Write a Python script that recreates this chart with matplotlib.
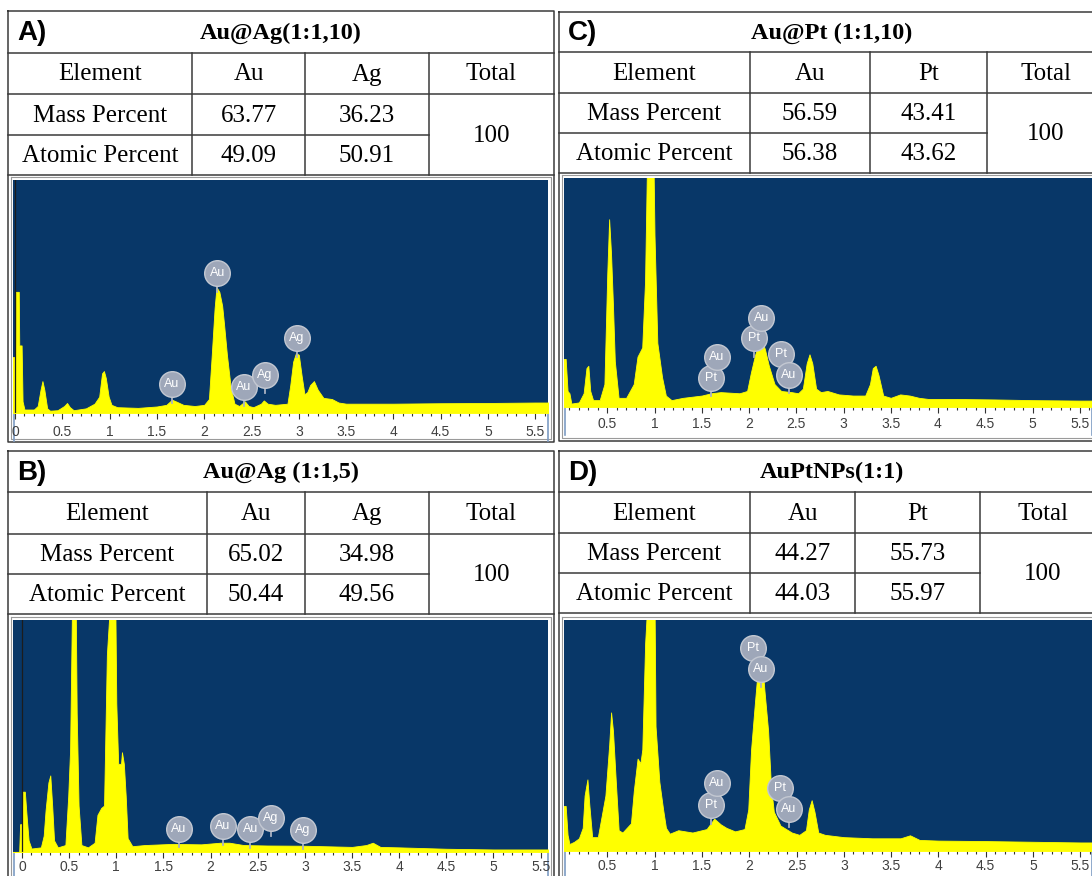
import matplotlib
matplotlib.use("Agg")
import matplotlib.pyplot as plt
from matplotlib.ticker import MultipleLocator

W, H = 1092, 876

# ---- table data ----
titles = {"A": "Au@Ag(1:1,10)", "B": "Au@Ag (1:1,5)", "C": "Au@Pt (1:1,10)", "D": "AuPtNPs(1:1)"}
headers = {"A": ["Element", "Au", "Ag", "Total"], "B": ["Element", "Au", "Ag", "Total"],
           "C": ["Element", "Au", "Pt", "Total"], "D": ["Element", "Au", "Pt", "Total"]}
mass = {"A": ["63.77", "36.23"], "B": ["65.02", "34.98"], "C": ["56.59", "43.41"], "D": ["44.27", "55.73"]}
atomic = {"A": ["49.09", "50.91"], "B": ["50.44", "49.56"], "C": ["56.38", "43.62"], "D": ["44.03", "55.97"]}
total = "100"

# ---- spectra (energy keV, height as fraction of plot) ----
A_e = [-0.03, 0.005, 0.01, 0.04, 0.045, 0.07, 0.08, 0.10, 0.2, 0.24, 0.27, 0.29, 0.31, 0.34, 0.37, 0.45,
       0.52, 0.55, 0.58, 0.62, 0.75, 0.84, 0.89, 0.92, 0.94, 0.96, 0.99, 1.02, 1.08, 1.3, 1.5, 1.6, 1.66,
       1.7, 1.78, 1.9, 2.0, 2.05, 2.08, 2.11, 2.13, 2.16, 2.19, 2.21, 2.24, 2.28, 2.32, 2.37, 2.43, 2.47,
       2.52, 2.6, 2.63, 2.67, 2.75, 2.88, 2.91, 2.94, 2.97, 3.0, 3.03, 3.06, 3.09, 3.12, 3.16, 3.2, 3.26,
       3.35, 3.42, 3.5, 4.0, 4.5, 5.0, 5.5, 5.7]
A_h = [0.24, 0.24, 0.52, 0.52, 0.29, 0.29, 0.05, 0.015, 0.015, 0.03, 0.10, 0.137, 0.10, 0.02, 0.01, 0.012,
       0.03, 0.043, 0.025, 0.012, 0.02, 0.04, 0.07, 0.17, 0.18, 0.15, 0.07, 0.035, 0.025, 0.022, 0.028,
       0.035, 0.057, 0.05, 0.035, 0.03, 0.035, 0.06, 0.25, 0.45, 0.54, 0.52, 0.46, 0.38, 0.25, 0.11, 0.04,
       0.03, 0.05, 0.03, 0.025, 0.04, 0.054, 0.04, 0.035, 0.04, 0.12, 0.22, 0.257, 0.25, 0.16, 0.08, 0.09,
       0.12, 0.137, 0.10, 0.065, 0.06, 0.045, 0.04, 0.04, 0.042, 0.043, 0.045, 0.045]

C_e = [0.03, 0.06, 0.08, 0.1, 0.12, 0.2, 0.25, 0.28, 0.3, 0.32, 0.35, 0.42, 0.47, 0.5, 0.52, 0.54, 0.56,
       0.58, 0.62, 0.7, 0.78, 0.82, 0.87, 0.9, 0.92, 0.99, 1.0, 1.03, 1.08, 1.12, 1.18, 1.3, 1.5, 1.6, 1.7,
       1.9, 1.98, 2.02, 2.06, 2.1, 2.13, 2.17, 2.21, 2.27, 2.34, 2.45, 2.52, 2.57, 2.61, 2.64, 2.67, 2.71,
       2.76, 2.83, 2.95, 3.1, 3.23, 3.28, 3.31, 3.34, 3.37, 3.42, 3.5, 3.6, 3.7, 3.8, 3.9, 4.2, 4.6, 5.0,
       5.5, 5.7]
C_h = [0.21, 0.21, 0.07, 0.06, 0.015, 0.02, 0.06, 0.17, 0.18, 0.07, 0.03, 0.03, 0.10, 0.58, 0.82, 0.67,
       0.45, 0.2, 0.04, 0.04, 0.1, 0.22, 0.26, 0.55, 1.05, 1.05, 0.75, 0.28, 0.13, 0.05, 0.03, 0.04, 0.05,
       0.06, 0.065, 0.06, 0.07, 0.15, 0.22, 0.28, 0.30, 0.25, 0.18, 0.1, 0.07, 0.065, 0.06, 0.08, 0.19,
       0.23, 0.19, 0.08, 0.065, 0.07, 0.055, 0.05, 0.05, 0.1, 0.17, 0.18, 0.14, 0.05, 0.04, 0.055, 0.05,
       0.04, 0.035, 0.035, 0.033, 0.03, 0.028, 0.028]

B_e = [-0.1, -0.03, -0.02, 0.0, 0.01, 0.03, 0.05, 0.07, 0.1, 0.2, 0.23, 0.25, 0.28, 0.3, 0.32, 0.34, 0.38,
       0.46, 0.49, 0.51, 0.53, 0.57, 0.58, 0.6, 0.63, 0.7, 0.77, 0.8, 0.84, 0.87, 0.9, 0.93, 0.99, 1.0,
       1.02, 1.05, 1.06, 1.08, 1.1, 1.12, 1.17, 1.3, 1.6, 1.9, 2.1, 2.2, 2.35, 2.6, 3.0, 3.5, 3.65, 3.72,
       3.8, 4.0, 4.5, 5.0, 5.6]
B_h = [0.0, 0.0, 0.12, 0.12, 0.26, 0.26, 0.15, 0.05, 0.015, 0.02, 0.07, 0.18, 0.3, 0.33, 0.2, 0.05, 0.02,
       0.03, 0.24, 0.44, 1.05, 1.05, 0.6, 0.2, 0.03, 0.02, 0.04, 0.16, 0.19, 0.2, 0.85, 1.05, 1.05, 0.64,
       0.38, 0.38, 0.43, 0.38, 0.24, 0.06, 0.025, 0.03, 0.035, 0.033, 0.04, 0.04, 0.03, 0.028, 0.027, 0.022,
       0.03, 0.04, 0.022, 0.02, 0.014, 0.011, 0.011]

D_e = [0.03, 0.06, 0.08, 0.1, 0.15, 0.2, 0.24, 0.26, 0.29, 0.31, 0.34, 0.4, 0.48, 0.52, 0.54, 0.56, 0.59,
       0.62, 0.66, 0.75, 0.78, 0.82, 0.85, 0.87, 0.9, 0.92, 1.0, 1.01, 1.05, 1.09, 1.12, 1.16, 1.25, 1.4,
       1.55, 1.63, 1.7, 1.76, 1.85, 1.95, 1.99, 2.02, 2.06, 2.1, 2.13, 2.16, 2.2, 2.23, 2.26, 2.33, 2.45,
       2.53, 2.6, 2.63, 2.66, 2.69, 2.73, 2.8, 3.0, 3.3, 3.6, 3.7, 3.8, 4.0, 4.5, 5.0, 5.5, 5.7]
D_h = [0.195, 0.195, 0.07, 0.03, 0.04, 0.055, 0.1, 0.24, 0.31, 0.2, 0.06, 0.06, 0.24, 0.46, 0.6, 0.52, 0.3,
       0.09, 0.08, 0.12, 0.26, 0.4, 0.38, 0.44, 0.9, 1.05, 1.05, 0.54, 0.3, 0.18, 0.1, 0.075, 0.09, 0.08,
       0.095, 0.14, 0.115, 0.1, 0.085, 0.095, 0.18, 0.44, 0.64, 0.83, 0.85, 0.7, 0.52, 0.28, 0.17, 0.11,
       0.08, 0.07, 0.09, 0.18, 0.22, 0.17, 0.08, 0.07, 0.06, 0.055, 0.055, 0.068, 0.048, 0.045, 0.043,
       0.04, 0.037, 0.037]

# peak markers: (label, energy, balloon height)
A_marks = [("Au", 1.66, 0.125), ("Au", 2.14, 0.60), ("Au", 2.42, 0.11), ("Ag", 2.64, 0.165), ("Ag", 2.98, 0.32)]
B_marks = [("Au", 1.66, 0.10), ("Au", 2.13, 0.112), ("Au", 2.42, 0.097), ("Ag", 2.64, 0.148), ("Ag", 2.98, 0.095)]
C_marks = [("Pt", 1.60, 0.128), ("Au", 1.66, 0.22), ("Pt", 2.05, 0.30), ("Au", 2.13, 0.39),
           ("Pt", 2.34, 0.23), ("Au", 2.42, 0.14)]
D_marks = [("Pt", 1.60, 0.198), ("Au", 1.66, 0.295), ("Pt", 2.04, 0.88), ("Au", 2.12, 0.79),
           ("Pt", 2.33, 0.274), ("Au", 2.42, 0.183)]

spectra = {"A": (A_e, A_h, A_marks), "B": (B_e, B_h, B_marks), "C": (C_e, C_h, C_marks), "D": (D_e, D_h, D_marks)}

# ---- layout in pixels ----
layout = {
    "A": dict(x0=8, x1=554, cols=[192, 305, 429], rows=[11, 53, 94, 135, 175],
              sp=(13, 180, 548, 413), bottom=442, zero=15, ppk=94.6, zline=True, pad=4),
    "B": dict(x0=8, x1=554, cols=[207, 305, 429], rows=[451, 492, 534, 574, 614],
              sp=(13, 620, 548, 852), bottom=890, zero=22, ppk=94.3, zline=True, pad=1.5),
    "C": dict(x0=559, x1=1105, cols=[750, 870, 987], rows=[12, 52, 93, 133, 173],
              sp=(564, 178, 1092, 407), bottom=441, zero=560, ppk=94.5, zline=False, pad=3),
    "D": dict(x0=559, x1=1105, cols=[750, 855, 980], rows=[451, 492, 533, 573, 613],
              sp=(564, 620, 1092, 851), bottom=890, zero=560, ppk=94.6, zline=False, pad=1.5),
}

BLUE = "#083768"
YEL = "#ffff00"
LINE = "#3a3a3a"
serif = "Liberation Serif"
sans = "Liberation Sans"
FS = 18

fig = plt.figure(figsize=(W / 100, H / 100), dpi=100)
bg = fig.add_axes([0, 0, 1, 1])
bg.set_xlim(0, W)
bg.set_ylim(H, 0)
bg.axis("off")


def frac(x0, y0, x1, y1):
    return [x0 / W, 1 - y1 / H, (x1 - x0) / W, (y1 - y0) / H]


for key, L in layout.items():
    x0, x1, rows, cols = L["x0"], L["x1"], L["rows"], L["cols"]
    lw = 1.1
    # outer box
    bg.plot([x0, x1, x1, x0, x0], [rows[0], rows[0], L["bottom"], L["bottom"], rows[0]], color=LINE, lw=lw)
    # horizontal table lines
    for i, y in enumerate(rows[1:]):
        xe = cols[2] if i == 2 else x1
        bg.plot([x0, xe], [y, y], color=LINE, lw=lw)
    for c in cols:
        bg.plot([c, c], [rows[1], rows[4]], color=LINE, lw=lw)
    # texts
    yc_title = (rows[0] + rows[1]) / 2 + 1
    bg.text(x0 + 9, yc_title, key + ")", fontsize=20, fontweight="bold", family=sans,
            ha="left", va="center")
    bg.text((x0 + x1) / 2, yc_title, titles[key], fontsize=17.5, fontweight="bold", family=serif,
            ha="center", va="center")
    edges = [x0] + cols + [x1]
    cx = [(edges[i] + edges[i + 1]) / 2 for i in range(4)]
    yh = (rows[1] + rows[2]) / 2 + 1
    ym = (rows[2] + rows[3]) / 2 + 1
    ya = (rows[3] + rows[4]) / 2 + 1
    for i, t in enumerate(headers[key]):
        bg.text(cx[i], yh, t, fontsize=FS, family=serif, ha="center", va="center")
    bg.text(cx[0], ym, "Mass Percent", fontsize=FS, family=serif, ha="center", va="center")
    bg.text(cx[0], ya, "Atomic Percent", fontsize=FS, family=serif, ha="center", va="center")
    for i in range(2):
        bg.text(cx[i + 1], ym, mass[key][i], fontsize=FS, family=serif, ha="center", va="center")
        bg.text(cx[i + 1], ya, atomic[key][i], fontsize=FS, family=serif, ha="center", va="center")
    bg.text(cx[3], rows[3] + 1, total, fontsize=FS, family=serif, ha="center", va="center")

    # spectrum frame
    sx0, sy0, sx1, sy1 = L["sp"]
    bg.plot([x0 + 3, x1 - 3, x1 - 3, x0 + 3, x0 + 3], [sy0 - 3, sy0 - 3, L["bottom"] - 3, L["bottom"] - 3, sy0 - 3],
            color="#9a9a9a", lw=0.8)
    # light blue side lines of the tick strip
    bg.plot([sx0 + 1, sx0 + 1], [sy1, sy1 + 28], color="#7d9cc4", lw=1.2)
    bg.plot([sx1, sx1], [sy1, sy1 + 28], color="#7d9cc4", lw=1.2)

    # spectrum axes
    e, h, marks = spectra[key]
    ax = fig.add_axes(frac(sx0, sy0, sx1, sy1))
    ax.set_facecolor(BLUE)
    xl = ((sx0 - L["zero"]) / L["ppk"], (sx1 - L["zero"]) / L["ppk"])
    ax.set_ylim(0, 1)
    ax.fill_between(e, 0, h, color=YEL, lw=0.6, edgecolor=YEL, zorder=2)
    if L["zline"]:
        ax.axvline(0, color="#1c1c1c", lw=0.9, zorder=3)
    for sp in ax.spines.values():
        sp.set_visible(False)
    ax.set_yticks([])
    ax.xaxis.set_major_locator(MultipleLocator(0.5))
    ax.xaxis.set_minor_locator(MultipleLocator(0.1))
    ax.set_xlim(*xl)
    ax.tick_params(axis="x", which="major", length=4.5, width=0.8, color="#333333", pad=L["pad"],
                   labelsize=10, labelcolor="#404040")
    ax.tick_params(axis="x", which="minor", length=2.5, width=0.8, color="#333333")
    for t in ax.get_xticklabels():
        t.set_family(sans)
    ax.xaxis.set_major_formatter(matplotlib.ticker.FuncFormatter(lambda v, p: "%g" % v))
    ax.axhline(0, color="#d8d8a0", lw=0.8, zorder=4)

    for lab, en, yb in marks:
        ax.plot([en, en], [yb, yb - 0.08], color="#aab2c2", lw=1.3, zorder=5)
        ax.scatter([en], [yb], s=340, color="#9ea7b9", edgecolors="#c3c8d2", linewidths=1.0, zorder=6)
        ax.text(en, yb, lab, color="white", fontsize=9, family=sans, ha="center", va="center", zorder=7)

fig.savefig("out.png", dpi=100)
